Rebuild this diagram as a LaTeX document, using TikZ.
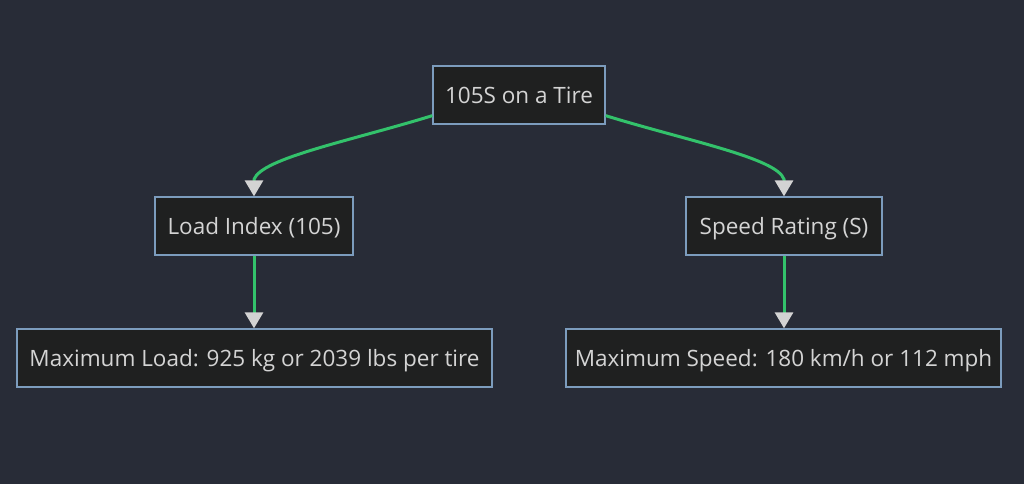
\documentclass[tikz,border=0pt]{standalone}
\usepackage{fontspec}
\setmainfont{Open Sans}
\usetikzlibrary{arrows.meta,calc}
\definecolor{bgc}{HTML}{282C37}
\definecolor{nodefill}{HTML}{1F2020}
\definecolor{nodeborder}{HTML}{7C9CBD}
\definecolor{txtc}{HTML}{D4D4D4}
\definecolor{edgec}{HTML}{33C26B}
\definecolor{tipc}{HTML}{D3D3D3}
\tikzset{
  box/.style={draw=nodeborder, fill=nodefill, line width=1.3pt, inner sep=0pt,
    minimum height=58pt, text=txtc, text height=16.5pt, text depth=0pt,
    font=\fontsize{22.5}{26}\selectfont},
  edge/.style={draw=edgec, line width=3pt,
    -{Triangle[width=18pt,length=16pt,color=tipc,fill=tipc]}}
}
\begin{document}
\begin{tikzpicture}[x=1pt,y=-1pt]
\fill[bgc] (0,0) rectangle (1024,484);
\useasboundingbox (0,0) rectangle (1024,484);
\node[box, minimum width=172pt] (t) at (519,95) {105S on a Tire};
\node[box, minimum width=198pt] (li) at (254,226) {Load Index (105)};
\node[box, minimum width=196pt] (sr) at (784,226) {Speed Rating (S)};
\node[box, minimum width=475pt] (ml) at (254.5,358) {Maximum Load: 925 kg or 2039 lbs per tire};
\node[box, minimum width=435pt] (ms) at (783.5,358) {Maximum Speed: 180 km/h or 112 mph};
\draw[edge] ([yshift=9pt]t.south west) .. controls (350,141) and (262,158) .. ([yshift=17pt]li.north) -- (li.north);
\draw[edge] ([yshift=9pt]t.south east) .. controls (688,141) and (777,158) .. ([yshift=17pt]sr.north) -- (sr.north);
\draw[edge] (li.south) -- (li.south |- ml.north);
\draw[edge] (sr.south) -- (sr.south |- ms.north);
\end{tikzpicture}
\end{document}
